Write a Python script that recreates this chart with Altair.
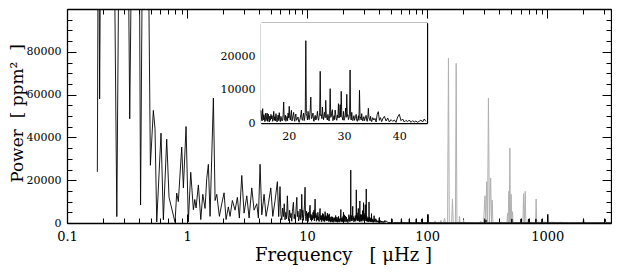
import altair as alt
import pandas as pd

# ---------------- data ----------------
low_freq = [0.179, 0.183, 0.187, 0.192, 0.220, 0.246, 0.260, 0.273, 0.299, 0.325, 0.333, 0.345,
            0.376, 0.402, 0.410, 0.426, 0.447, 0.478, 0.495, 0.524, 0.541, 0.559, 0.607, 0.635,
            0.677, 0.708, 0.794, 0.820, 0.846, 0.903, 0.932, 0.981, 1.025, 1.073, 1.129, 1.160,
            1.189, 1.243, 1.301, 1.352, 1.413, 1.459, 1.505, 1.555, 1.657, 1.712, 1.768, 1.859,
            1.946, 2.034, 2.113, 2.209, 2.282, 2.385, 2.512, 2.626, 2.728, 2.857, 2.985, 3.146,
            3.288, 3.461, 3.617, 3.809, 3.928, 4.058, 4.193, 4.382, 4.553, 4.759, 4.983, 5.178,
            5.411, 5.656, 5.80, 5.95, 6.05, 6.15, 6.25, 6.35, 6.45, 6.55, 6.65, 6.75, 6.85, 6.95,
            7.05, 7.15, 7.25, 7.35, 7.45, 7.55, 7.69, 7.8, 7.9, 8.0, 8.1, 8.21, 8.3, 8.4, 8.5,
            8.63, 8.75, 8.85, 8.95, 9.03, 9.12, 9.2, 9.3, 9.4, 9.5, 9.62, 9.7, 9.8, 9.9, 10.0,
            10.1, 10.2, 10.3, 10.4, 10.5, 10.59, 10.7, 10.8, 10.9, 11.0, 11.1, 11.2, 11.3, 11.4,
            11.5, 11.66, 11.75, 11.85, 11.95, 12.05, 12.18, 12.3, 12.4, 12.5, 12.6, 12.7, 12.83,
            12.95, 13.05, 13.15, 13.3, 13.4, 13.5, 13.6, 13.7, 13.8, 13.9, 14.0, 14.13, 14.25,
            14.35, 14.45, 14.55, 14.65, 14.76, 14.88]
low_power = [23900, 180000, 58000, 170000, 300000, 150000, 3000, 160000, 250000, 120000, 48700, 130000,
             250000, 110000, 8400, 140000, 200000, 120000, 27000, 52600, 44000, 500, 42000, 1500,
             39200, 12000, 300, 14000, 10000, 35500, 16400, 45100, 500, 23700, 6200, 11000,
             7000, 17800, 1600, 13400, 6800, 20800, 27400, 3100, 58400, 10500, 13400, 3100,
             9000, 14100, 1600, 7500, 3100, 10500, 6000, 12000, 2300, 22200, 4600, 12700,
             2300, 16400, 6000, 9000, 2300, 27400, 3800, 13400, 3100, 9000, 16400, 3100,
             10500, 19300, 3000, 17000, 4000, 1500, 7000, 3000, 9000, 1500, 5000, 2000, 12700, 3500,
             1000, 6000, 2500, 4500, 800, 5500, 9700, 2000, 4000, 1200, 7000, 12000, 3000, 5500, 1000,
             2500, 6500, 1500, 4500, 13400, 2500, 6000, 1200, 4000, 8000, 16700, 3000, 1000, 5500, 2000,
             4500, 700, 5000, 2500, 6500, 8300, 1500, 4000, 800, 3500, 1500, 5000, 2200, 6000,
             1000, 11200, 2500, 4500, 800, 3500, 1500, 5000, 1200, 3000, 700, 4500, 6800,
             1500, 3500, 600, 3500, 1500, 4500, 800, 4000, 1200, 3000, 600, 5300, 1500,
             3500, 900, 3000, 1500, 4600, 1000]

# 15 - 45 uHz: shown in the main panel and in the inset
mid_freq = [15.0, 15.1, 15.2, 15.3, 15.4, 15.5, 15.6, 15.7, 15.8, 15.9,
            16.0, 16.1, 16.2, 16.3, 16.4, 16.5, 16.6, 16.7, 16.8, 16.9,
            17.0, 17.1, 17.2, 17.3, 17.4, 17.5, 17.6, 17.7, 17.8, 17.9,
            18.0, 18.1, 18.2, 18.3, 18.4, 18.5, 18.6, 18.7, 18.8, 18.9,
            19.0, 19.1, 19.2, 19.3, 19.4, 19.5, 19.6, 19.7, 19.8, 19.9,
            20.0, 20.1, 20.2, 20.3, 20.4, 20.5, 20.6, 20.7, 20.8, 20.9,
            21.0, 21.1, 21.2, 21.3, 21.4, 21.5, 21.6, 21.7, 21.8, 21.9,
            22.0, 22.1, 22.2, 22.3, 22.4, 22.5, 22.6, 22.7, 22.8, 22.9,
            23.0, 23.1, 23.2, 23.3, 23.4, 23.5, 23.6, 23.7, 23.8, 23.9,
            24.0, 24.1, 24.2, 24.3, 24.4, 24.5, 24.6, 24.7, 24.8, 24.9,
            25.0, 25.1, 25.2, 25.3, 25.4, 25.5, 25.6, 25.7, 25.8, 25.9,
            26.0, 26.1, 26.2, 26.3, 26.4, 26.5, 26.6, 26.7, 26.8, 26.9,
            27.0, 27.1, 27.2, 27.3, 27.4, 27.5, 27.6, 27.7, 27.8, 27.9,
            28.0, 28.1, 28.2, 28.3, 28.4, 28.5, 28.6, 28.7, 28.8, 28.9,
            29.0, 29.1, 29.2, 29.3, 29.4, 29.5, 29.6, 29.7, 29.8, 29.9,
            30.0, 30.1, 30.2, 30.3, 30.4, 30.5, 30.6, 30.7, 30.8, 30.9,
            31.0, 31.1, 31.2, 31.3, 31.4, 31.5, 31.6, 31.7, 31.8, 31.9,
            32.0, 32.1, 32.2, 32.3, 32.4, 32.5, 32.6, 32.7, 32.8, 32.9,
            33.0, 33.1, 33.2, 33.3, 33.4, 33.5, 33.6, 33.7, 33.8, 33.9,
            34.0, 34.1, 34.2, 34.3, 34.4, 34.5, 34.6, 34.7, 34.8, 34.9,
            35.0, 35.2, 35.4, 35.6, 35.8, 36.0, 36.2, 36.4, 36.6, 36.8, 37.0, 37.3, 37.6,
            37.9, 38.2, 38.5, 38.8, 39.1, 39.4, 39.7, 40.0, 40.3, 40.6, 40.9, 41.2, 41.5, 41.8,
            42.1, 42.4, 42.7, 43.0, 43.3, 43.6, 43.9, 44.2, 44.5, 44.8]
mid_power = [3800, 1200, 600, 4300, 900, 2500, 1800, 400, 2900, 700,
             1500, 3000, 500, 2700, 1100, 300, 2100, 800, 2600, 1300,
             2200, 500, 1000, 3500, 800, 1900, 600, 2800, 1400, 300,
             1600, 2400, 700, 3100, 1000, 400, 2000, 1200, 600, 900,
             2500, 6300, 1100, 800, 2400, 500, 1200, 2000, 700, 3000,
             1500, 5000, 1800, 900, 2600, 3800, 600, 1500, 2200, 3200,
             1200, 500, 2000, 2700, 800, 1000, 1500, 1800, 400, 200,
             900, 1500, 2500, 3900, 1100, 800, 2000, 3000, 700, 1500,
             3200, 24700, 2800, 2000, 900, 3500, 1800, 1000, 2500, 4200,
             7800, 1300, 1500, 2400, 3000, 600, 500, 1800, 2300, 900,
             1200, 2200, 3500, 1400, 800, 1900, 3000, 15500, 2200, 2500,
             1300, 4800, 2000, 1000, 2500, 3200, 1600, 6800, 2400, 1500,
             900, 2600, 1400, 600, 2200, 10300, 1700, 2000, 3300, 4000,
             700, 1500, 2200, 1000, 3900, 2500, 1200, 800, 2400, 1600,
             5800, 1500, 2200, 5500, 1800, 9500, 2100, 1500, 900, 3500,
             800, 1300, 2400, 4500, 1700, 8600, 2000, 2500, 1000, 1500,
             2600, 15900, 2000, 900, 3200, 1100, 700, 1500, 2200, 800,
             1400, 2000, 2600, 900, 500, 1300, 2200, 800, 9800, 1500,
             1800, 900, 2800, 1200, 600, 1500, 1900, 700, 1200, 2000,
             2300, 900, 500, 1500, 4400, 1800, 1200, 700, 2000, 1000,
             400, 1600, 900, 1400, 300, 2600, 3400, 800, 1600, 400, 1200, 2000, 600,
             1500, 300, 1000, 500, 900, 200, 1800, 2600, 700, 1200, 300, 800, 400, 900,
             200, 700, 300, 600, 200, 500, 900, 300, 1200, 500]

high_freq = [45.0, 46.0, 47.0, 50.5, 51.0, 51.5, 60.5, 61.0, 61.5, 70.5, 71.0, 71.5, 80.5, 81.0,
             81.5, 89.5, 90.0, 90.5, 101.5, 102.0, 102.5, 150, 200, 250, 307, 309, 311, 400, 505,
             508, 511, 600, 604, 608, 694, 698, 702, 800, 805, 810, 898, 903, 908, 1005, 1013,
             1021, 1500, 1990, 2007, 2024, 3000, 3041, 3082, 3400]
high_power = [400, 900, 200, 150, 1900, 150, 150, 1900, 150, 150, 1900, 150, 150, 1900,
              150, 150, 1900, 150, 150, 4000, 150, 100, 120, 80, 100, 1500, 100, 100, 100,
              1900, 100, 100, 1900, 100, 100, 1900, 100, 100, 1900, 100, 100, 1900, 100, 100, 4000,
              100, 100, 100, 1900, 100, 100, 1900, 100, 100]

gray_freq = [105, 115, 116.5, 118, 128, 130, 132, 137, 139.5, 142, 148, 150.5, 153, 160, 162.5,
             165, 172, 174.5, 177, 184, 186, 188, 199, 201, 203, 276, 280, 284, 295, 303, 308,
             313, 318.5, 324, 330, 338, 343, 348, 353, 455, 462, 467, 473, 479.5, 484, 488.6,
             494, 501, 507, 514, 520, 628, 635, 645, 656, 664, 800, 809, 818, 850, 900, 950,
             1000, 1100, 1200, 1300, 1400, 1500]
gray_power = [0, 0, 1000, 0, 0, 1300, 0, 0, 2300, 0, 0, 77000, 0, 0, 11200,
              0, 0, 74600, 0, 0, 3100, 0, 0, 1500, 0, 0, 800, 0, 0, 12700, 500,
              19300, 500, 58400, 500, 21000, 500, 10700, 0, 0, 0, 4500, 300, 14800, 300, 35000,
              300, 13400, 300, 5300, 0, 0, 13700, 300, 14800, 0, 0, 11200, 0, 400, 200, 500,
              200, 400, 150, 350, 100, 0]

# axis ticks / labels
x_labels = [0.1, 1, 10, 100, 1000]
x_minor = [0.2, 0.3, 0.4, 0.5, 0.6, 0.7, 0.8, 0.9, 2, 3, 4, 5, 6, 7, 8, 9,
           20, 30, 40, 50, 60, 70, 80, 90, 200, 300, 400, 500, 600, 700, 800, 900,
           2000, 3000]
y_major = [0, 20000, 40000, 60000, 80000, 100000]
y_labels = [0, 20000, 40000, 60000, 80000]
y_minor = [5000, 10000, 15000, 25000, 30000, 35000, 45000, 50000, 55000,
           65000, 70000, 75000, 85000, 90000, 95000]
ix_labels = [20, 30, 40]
ix_minor = [16, 18, 22, 24, 26, 28, 32, 34, 36, 38, 42, 44]
iy_major = [0, 10000, 20000, 30000]
iy_labels = [0, 10000, 20000]
iy_minor = [3333, 6667, 13333, 16667, 23333, 26667]

main_x_domain = [0.1, 3400]
main_y_domain = [0, 100000]
inset_x_domain = [15, 45]
inset_y_domain = [0, 30000]

# ---------------- layout constants ----------------
W, H = 544, 214
IX_RANGE = [194, 360]
IY_RANGE = [114, 14]

black_df = pd.DataFrame({"f": low_freq + mid_freq + high_freq,
                         "p": low_power + mid_power + high_power})
gray_df = pd.DataFrame({"f": gray_freq, "p": gray_power})
inset_df = pd.DataFrame({"f": mid_freq, "p": mid_power})
main_dummy = pd.DataFrame({"f": main_x_domain, "p": main_y_domain})
inset_dummy = pd.DataFrame({"f": inset_x_domain, "p": inset_y_domain})
inset_box = pd.DataFrame({"x0": [inset_x_domain[0]], "x1": [inset_x_domain[1]],
                          "y0": [inset_y_domain[0]], "y1": [inset_y_domain[1]]})


def mscale_x():
    return alt.Scale(type="log", domain=main_x_domain, nice=False)


def mscale_y():
    return alt.Scale(domain=main_y_domain, nice=False, zero=False)


def iscale_x():
    return alt.Scale(domain=inset_x_domain, range=IX_RANGE, nice=False, zero=False)


def iscale_y():
    return alt.Scale(domain=inset_y_domain, range=IY_RANGE, nice=False, zero=False)


def tick_axis(orient, values, size, offset=0, domain=False):
    kw = dict(orient=orient, values=values, labels=False, title=None, grid=False,
              tickSize={"expr": str(-size)}, tickColor="black", tickWidth=1,
              domain=domain, domainColor="black", domainWidth=1.3)
    if offset:
        kw["offset"] = offset
    return alt.Axis(**kw)


def tick_layer(df, xs, ys, xaxis, yaxis):
    return alt.Chart(df).mark_point(opacity=0).encode(
        x=alt.X("f:Q", scale=xs, axis=xaxis),
        y=alt.Y("p:Q", scale=ys, axis=yaxis),
    )


layers = []

# gray high-frequency spikes
layers.append(alt.Chart(gray_df).mark_line(color="#b0b0b0", strokeWidth=1, clip=True).encode(
    x=alt.X("f:Q", scale=mscale_x(), axis=None),
    y=alt.Y("p:Q", scale=mscale_y(), axis=None),
))

# main black spectrum with label axes
layers.append(alt.Chart(black_df).mark_line(color="black", strokeWidth=0.9, clip=True).encode(
    x=alt.X("f:Q", scale=mscale_x(), axis=alt.Axis(
        orient="bottom", values=x_labels, format="~g", ticks=False, domain=False, grid=False,
        labelPadding=7, labelFontSize=13, labelFlush=False, labelOverlap=False,
        title="Frequency\u00a0\u00a0\u00a0[\u00a0\u03bcHz\u00a0]",
        titleX=276, titleY=37, titleAlign="center", titleBaseline="alphabetic")),
    y=alt.Y("p:Q", scale=mscale_y(), axis=alt.Axis(
        orient="left", values=y_labels, format="d", ticks=False, domain=False, grid=False,
        labelPadding=6, labelFontSize=11, labelFlush=False, labelOverlap=False,
        title="Power\u00a0\u00a0[\u00a0ppm\u00b2\u00a0\u00a0]", titleFontSize=17,
        titleX=-50, titleY=104, titleAngle=270, titleAlign="center", titleBaseline="middle")),
))

# main frame ticks (inward)
layers.append(tick_layer(main_dummy, mscale_x(), mscale_y(),
                         tick_axis("bottom", x_labels, 9, domain=True),
                         tick_axis("left", y_major, 9, domain=True)))
layers.append(tick_layer(main_dummy, mscale_x(), mscale_y(),
                         tick_axis("bottom", x_minor, 5),
                         tick_axis("left", y_minor, 5)))
layers.append(tick_layer(main_dummy, mscale_x(), mscale_y(),
                         tick_axis("top", x_labels, 9, domain=True),
                         tick_axis("right", y_major, 9, domain=True)))
layers.append(tick_layer(main_dummy, mscale_x(), mscale_y(),
                         tick_axis("top", x_minor, 5),
                         tick_axis("right", y_minor, 5)))

# inset background
layers.append(alt.Chart(inset_box).mark_rect(fill="white").encode(
    x=alt.X("x0:Q", scale=iscale_x(), axis=None), x2="x1:Q",
    y=alt.Y("y0:Q", scale=iscale_y(), axis=None), y2="y1:Q",
))

# inset spectrum with label axes
OFF_B, OFF_L, OFF_T, OFF_R = IY_RANGE[0] - H, -IX_RANGE[0], -IY_RANGE[1], IX_RANGE[1] - W
layers.append(alt.Chart(inset_df).mark_line(color="black", strokeWidth=0.9).encode(
    x=alt.X("f:Q", scale=iscale_x(), axis=alt.Axis(
        orient="bottom", offset=OFF_B, values=ix_labels, format="d", ticks=False, domain=False,
        grid=False, labelPadding=7, labelFontSize=11, labelFlush=False, title=None)),
    y=alt.Y("p:Q", scale=iscale_y(), axis=alt.Axis(
        orient="left", offset=OFF_L, values=iy_labels, format="d", ticks=False, domain=False,
        grid=False, labelPadding=6, labelFontSize=11, labelFlush=False, title=None)),
))

layers.append(tick_layer(inset_dummy, iscale_x(), iscale_y(),
                         tick_axis("bottom", ix_labels, 8, OFF_B, domain=True),
                         tick_axis("left", iy_major, 8, OFF_L, domain=True)))
layers.append(tick_layer(inset_dummy, iscale_x(), iscale_y(),
                         tick_axis("bottom", ix_minor, 4, OFF_B),
                         tick_axis("left", iy_minor, 4, OFF_L)))
layers.append(tick_layer(inset_dummy, iscale_x(), iscale_y(),
                         tick_axis("top", ix_labels, 8, OFF_T, domain=True),
                         tick_axis("right", iy_major, 8, OFF_R, domain=True)))
layers.append(tick_layer(inset_dummy, iscale_x(), iscale_y(),
                         tick_axis("top", ix_minor, 4, OFF_T),
                         tick_axis("right", iy_minor, 4, OFF_R)))

chart = alt.layer(*layers).resolve_scale(
    x="independent", y="independent"
).properties(
    width=W, height=H,
    autosize=alt.AutoSizeParams(type="none"),
    padding={"left": 59, "top": 1, "right": 1, "bottom": 42},
).configure_view(stroke=None).configure_axis(
    labelFont="DejaVu Serif", titleFont="DejaVu Serif", labelColor="black",
    titleColor="black", titleFontWeight="normal", titleFontSize=18,
)

chart.save("out.html", embed_options={"renderer": "svg", "actions": False})
